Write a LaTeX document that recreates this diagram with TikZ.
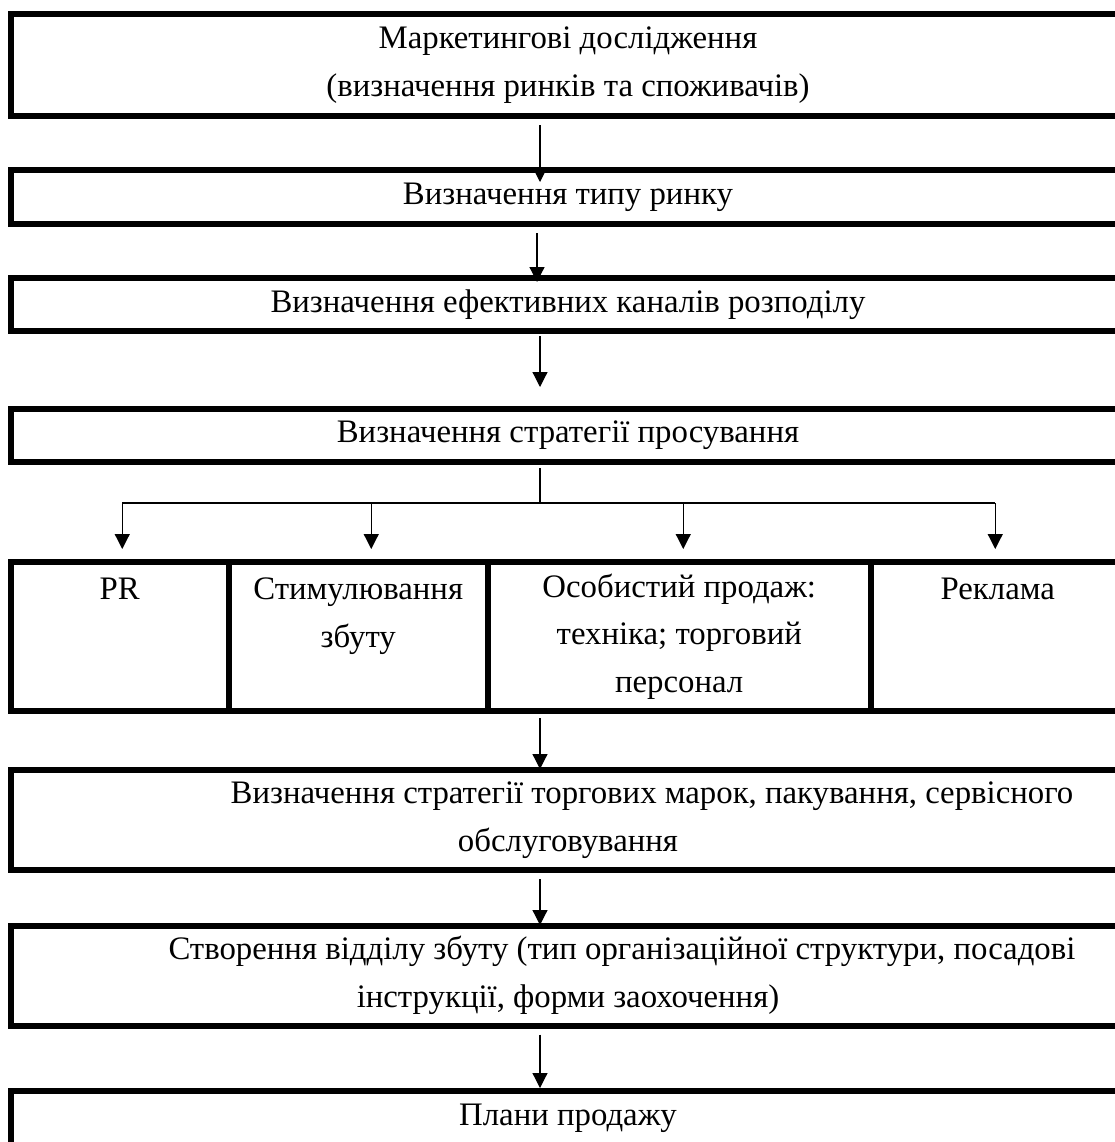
\documentclass[tikz,border=0pt]{standalone}
\usepackage{fontspec}
\setmainfont{Liberation Serif}
\usetikzlibrary{arrows.meta,positioning}

\begin{document}
\begin{tikzpicture}[
  x=0.5pt,y=-0.5pt,
  font=\fontsize{16.4pt}{23.75pt}\selectfont,
  box/.style={draw=black,line width=3pt,align=center,minimum width=557pt,inner sep=0pt},
  cell/.style={draw=black,line width=3pt,align=center,minimum height=74.25pt,inner sep=0pt},
  link/.style={line width=.6pt,draw=black},
  arrow/.style={-{Triangle[length=7.5pt,width=7.5pt]},line width=.6pt,draw=black}
]
\useasboundingbox (0,0) rectangle (1115,1142);

\node[box,minimum height=51pt] (research) at (568,65) {Маркетингові дослідження\\(визначення ринків та споживачів)};
\node[box,minimum height=27pt] (markettype) at (568,197) {Визначення типу ринку};
\node[box,minimum height=26.25pt] (channels) at (568,304.25) {Визначення ефективних каналів розподілу};
\node[box,minimum height=26.5pt] (promotion) at (568,435.5) {Визначення стратегії просування};

\node[cell,minimum width=108.75pt] (pr) at (119.75,636.25) {PR\\\mbox{}\\\mbox{}};
\node[cell,minimum width=129.75pt] (stim) at (358.25,636.25) {Стимулювання\\збуту\\\mbox{}};
\node[cell,minimum width=191.25pt] (personal) at (679.25,636.25) {Особистий продаж:\\техніка; торговий\\персонал};
\node[cell,minimum width=127.25pt] (advert) at (997.75,636.25) {Реклама\\\mbox{}\\\mbox{}};

\node[box,minimum height=50pt] (brands) at (568,820) {\hspace*{84pt}Визначення стратегії торгових марок, пакування, сервісного\\обслуговування};
\node[box,minimum height=50pt] (salesdept) at (568,975.5) {\hspace*{54pt}Створення відділу збуту (тип організаційної структури, посадові\\інструкції, форми заохочення)};
\node[box,minimum height=27.5pt] (salesplans) at (568,1118.5) {Плани продажу};

\coordinate (fork) at (540,503);

\draw[arrow,shorten <=3pt,shorten >=-7.5pt] (fork |- research.south) -- (fork |- markettype.north);
\draw[arrow,shorten <=3pt,shorten >=-3.5pt] ([xshift=-1.5pt]fork |- markettype.south) -- ([xshift=-1.5pt]fork |- channels.north);
\draw[arrow,shorten <=1.25pt,shorten >=9.5pt] (fork |- channels.south) -- (fork |- promotion.north);

\draw[link,shorten <=1.5pt] (fork |- promotion.south) -- (fork);
\draw[link] ([xshift=1.25pt]fork -| pr.north) -- ([xshift=-1.25pt]fork -| advert.north);
\draw[arrow,shorten >=5pt] ([xshift=1.25pt]fork -| pr.north) -- ([xshift=1.25pt]pr.north);
\draw[arrow,shorten >=5pt] ([xshift=6.5pt]fork -| stim.north) -- ([xshift=6.5pt]stim.north);
\draw[arrow,shorten >=5pt] ([xshift=2pt]fork -| personal.north) -- ([xshift=2pt]personal.north);
\draw[arrow,shorten >=5pt] ([xshift=-1.25pt]fork -| advert.north) -- ([xshift=-1.25pt]advert.north);

\draw[arrow,shorten <=2.25pt,shorten >=-1pt] (fork |- personal.south) -- (fork |- brands.north);
\draw[arrow,shorten <=3pt,shorten >=-1.25pt] (fork |- brands.south) -- (fork |- salesdept.north);
\draw[arrow,shorten <=3pt] (fork |- salesdept.south) -- (fork |- salesplans.north);
\end{tikzpicture}
\end{document}
